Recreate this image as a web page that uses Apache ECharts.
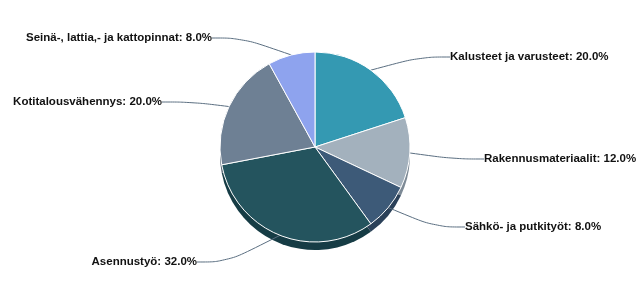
<!DOCTYPE html>
<html><head><meta charset="utf-8">
<script src="https://cdn.jsdelivr.net/npm/echarts@6/dist/echarts.min.js"></script>
<style>html,body{margin:0;padding:0;background:#fff}#c{width:640px;height:305px}</style>
</head><body><div id="c"></div>
<script>
const categories = ['Kalusteet ja varusteet','Rakennusmateriaalit','Sähkö- ja putkityöt','Asennustyö','Kotitalousvähennys','Seinä-, lattia,- ja kattopinnat'];
const values = [20.0, 12.0, 8.0, 32.0, 20.0, 8.0];
const topColors = ['#3499b2','#a3b1bd','#3d5a78','#24545e','#6e8094','#8ea3ee'];
const sideColors = ['#26768a','#7d8a96','#2b4159','#163c45','#52616f','#6c7fc4'];

// label anchor positions (layout only)
const labelPos = [
  {x:450, y:57, align:'left'},
  {x:484, y:159, align:'left'},
  {x:465, y:227, align:'left'},
  {x:197, y:262, align:'right'},
  {x:162, y:102, align:'right'},
  {x:212, y:38, align:'right'}
];

const chart = echarts.init(document.getElementById('c'), null, {renderer:'canvas'});
const center = [315, 147], r = 95, depth = 8;
chart.setOption({
  animation:false,
  series:[
    {
      type:'pie', z:1, center:[center[0], center[1]+depth], radius:r, startAngle:90, clockwise:true,
      silent:true, label:{show:false}, labelLine:{show:false},
      itemStyle:{borderWidth:0},
      data: categories.map((n,i)=>({name:n, value:values[i], itemStyle:{color:sideColors[i]}}))
    },
    {
      type:'pie', z:2, center:center, radius:r, startAngle:90, clockwise:true,
      itemStyle:{borderColor:'#ffffff', borderWidth:1},
      label:{
        show:true, color:'#111', fontFamily:'Liberation Sans, Arial, sans-serif', fontWeight:'bold', fontSize:11.5,
        formatter: p => p.name + ': ' + p.value.toFixed(1) + '%'
      },
      labelLine:{show:true, smooth:0.4, length:15, length2:30, lineStyle:{color:'#5a6e80', width:1}},
      labelLayout: function(params){
        const p = labelPos[params.dataIndex];
        return {x:p.x, y:p.y, align:p.align, verticalAlign:'middle', hideOverlap:false, moveOverlap:false};
      },
      data: categories.map((n,i)=>({name:n, value:values[i], itemStyle:{color:topColors[i]}}))
    }
  ]
});
</script></body></html>
